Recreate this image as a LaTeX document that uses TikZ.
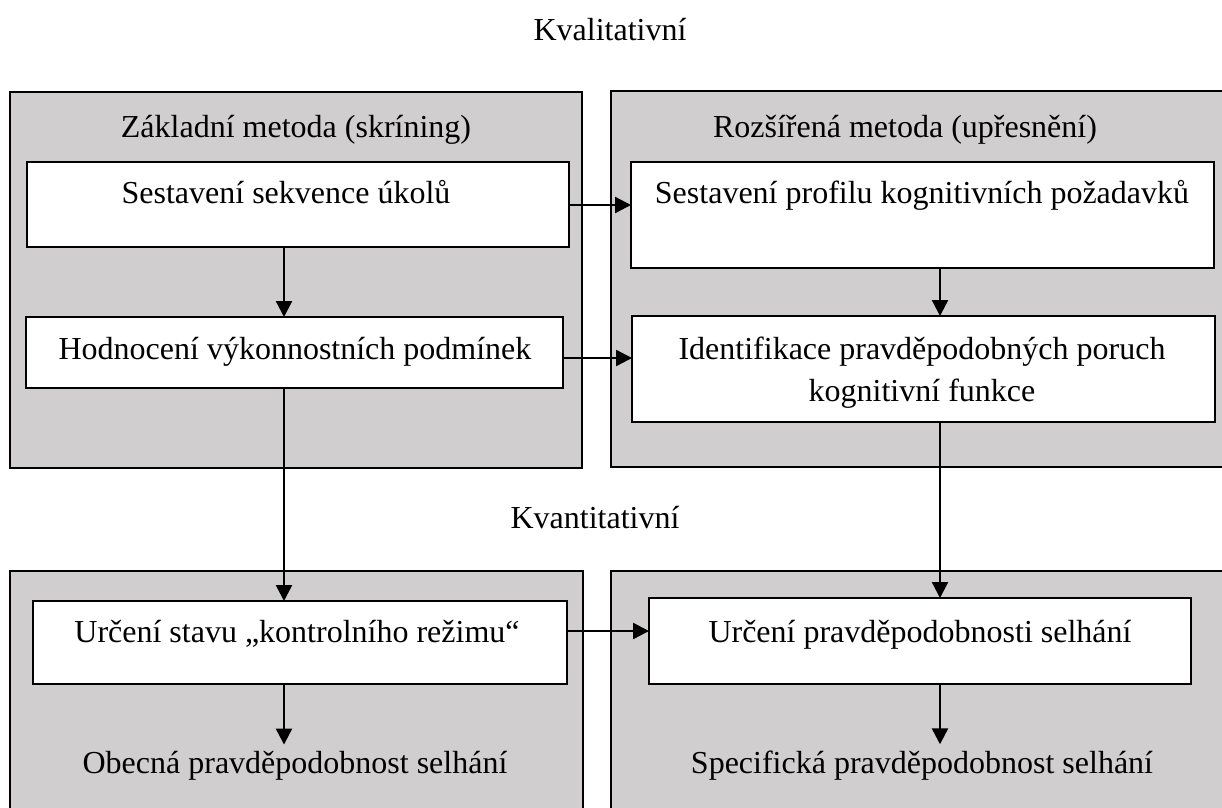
\documentclass[tikz,border=0pt]{standalone}
\usepackage{fontspec}
\setmainfont{Liberation Serif}
\usetikzlibrary{arrows.meta,calc}
\definecolor{panelgray}{RGB}{208,206,207}
\begin{document}
\begin{tikzpicture}[x=1pt,y=-1pt,
  panel/.style={draw=black,line width=2pt,fill=panelgray},
  stepbox/.style={draw=black,line width=2.6pt,fill=white,rectangle,anchor=north west,inner sep=0pt,outer sep=0pt},
  lbl/.style={anchor=base,inner sep=0pt,font=\fontsize{32}{42}\selectfont},
  arr/.style={line width=2.4pt,-{Triangle[length=16pt,width=16pt]}}]
\useasboundingbox (0,0) rectangle (1222,807);

% method panels
\draw[panel] (10,92) rectangle (582,468);
\draw[panel] (611,91) rectangle (1232,467);
\draw[panel] (10,571) rectangle (583,817);
\draw[panel] (611,571) rectangle (1232,817);

% step boxes
\node[stepbox,minimum width=542pt,minimum height=85pt]  (b1) at (27,162) {};
\node[stepbox,minimum width=537pt,minimum height=71pt]  (b2) at (26,317) {};
\node[stepbox,minimum width=583pt,minimum height=106pt] (b3) at (631,162) {};
\node[stepbox,minimum width=583pt,minimum height=106pt] (b4) at (632,316) {};
\node[stepbox,minimum width=534pt,minimum height=83pt]  (b5) at (33,601) {};
\node[stepbox,minimum width=542pt,minimum height=86pt]  (b6) at (649,598) {};

% texts
\node[lbl] (tqual) at (610,40) {Kvalitativní};
\node[lbl] (tquant) at (595,528) {Kvantitativní};
\node[lbl] (tbasic) at (296,137) {Základní metoda (skríning)};
\node[lbl] (text) at (905,137) {Rozšířená metoda (upřesnění)};
\node[lbl] (t1) at (286,203) {Sestavení sekvence úkolů};
\node[lbl] (t2) at (295,359) {Hodnocení výkonnostních podmínek};
\node[lbl] (t3) at (922,203) {Sestavení profilu kognitivních požadavků};
\node[lbl,align=center] (t4) at (922,401) {Identifikace pravděpodobných poruch\\kognitivní funkce};
\node[lbl] (t5) at (297,642) {Určení stavu „kontrolního režimu“};
\node[lbl] (t6) at (920,642) {Určení pravděpodobnosti selhání};
\node[lbl] (tgen) at (295,773) {Obecná pravděpodobnost selhání};
\node[lbl] (tspec) at (922,773) {Specifická pravděpodobnost selhání};

% connector guides
\coordinate (xl) at (284,0);
\coordinate (xr) at (940,0);
\coordinate (y1) at (0,205);
\coordinate (y2) at (0,358);
\coordinate (y3) at (0,631);

% connectors
\draw[arr] (b1.south -| xl) -- (b2.north -| xl);
\draw[arr] (b3.south -| xr) -- (b4.north -| xr);
\draw[arr] (b2.south -| xl) -- (b5.north -| xl);
\draw[arr] (b4.south -| xr) -- (b6.north -| xr);
\draw[arr,shorten >=6pt] (b5.south -| xl) -- (tgen.north -| xl);
\draw[arr,shorten >=6pt] (b6.south -| xr) -- (tspec.north -| xr);
\draw[arr] (b1.east |- y1) -- (b3.west |- y1);
\draw[arr] (b2.east |- y2) -- (b4.west |- y2);
\draw[arr] (b5.east |- y3) -- (b6.west |- y3);
\end{tikzpicture}
\end{document}
